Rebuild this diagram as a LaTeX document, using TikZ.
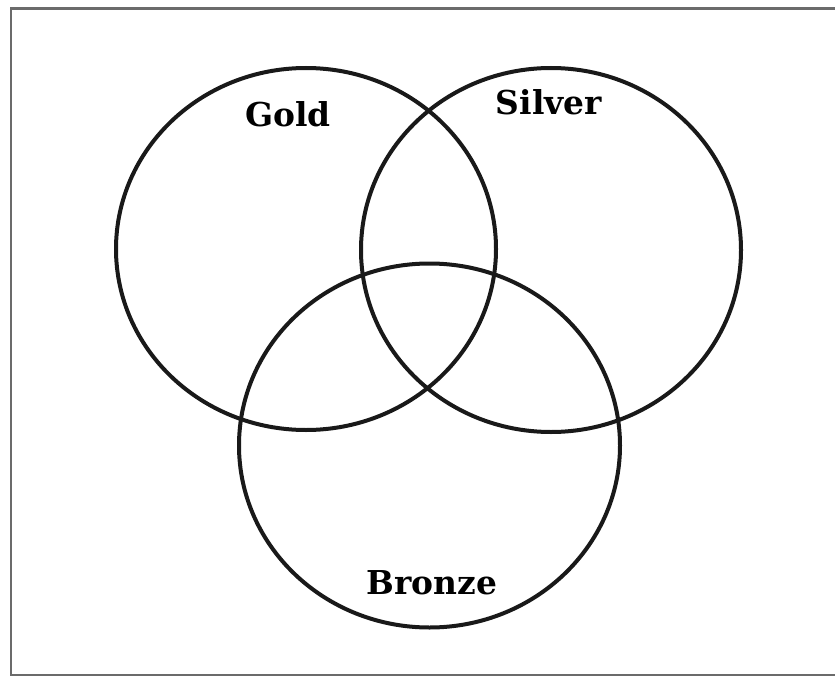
\documentclass[tikz,border=0pt]{standalone}
\usepackage{fontspec}
\setmainfont{DejaVu Serif}
\begin{document}
\begin{tikzpicture}[x=1bp,y=-1bp,
  setring/.style={line width=4bp,draw=black!90},
  frameline/.style={line width=2.6bp,draw=black!58},
  setlabel/.style={font=\fontsize{33}{33}\selectfont\bfseries,inner sep=0pt}]
\useasboundingbox (0,0) rectangle (835,677);
% frame (right side lies beyond the picture edge)
\draw[frameline] (840,8.5) -- (11,8.5) -- (11,675) -- (840,675);
% sets
\draw[setring] (306,249) ellipse [x radius=190, y radius=181];
\draw[setring] (551,250) ellipse [x radius=190, y radius=182];
\draw[setring] (429.5,445.5) ellipse [x radius=190.5, y radius=182];
% labels
\node[setlabel] (gold) at (288,114) {Gold};
\node[setlabel] (silver) at (549,102) {Silver};
\node[setlabel] (bronze) at (432,583) {Bronze};
\end{tikzpicture}
\end{document}
